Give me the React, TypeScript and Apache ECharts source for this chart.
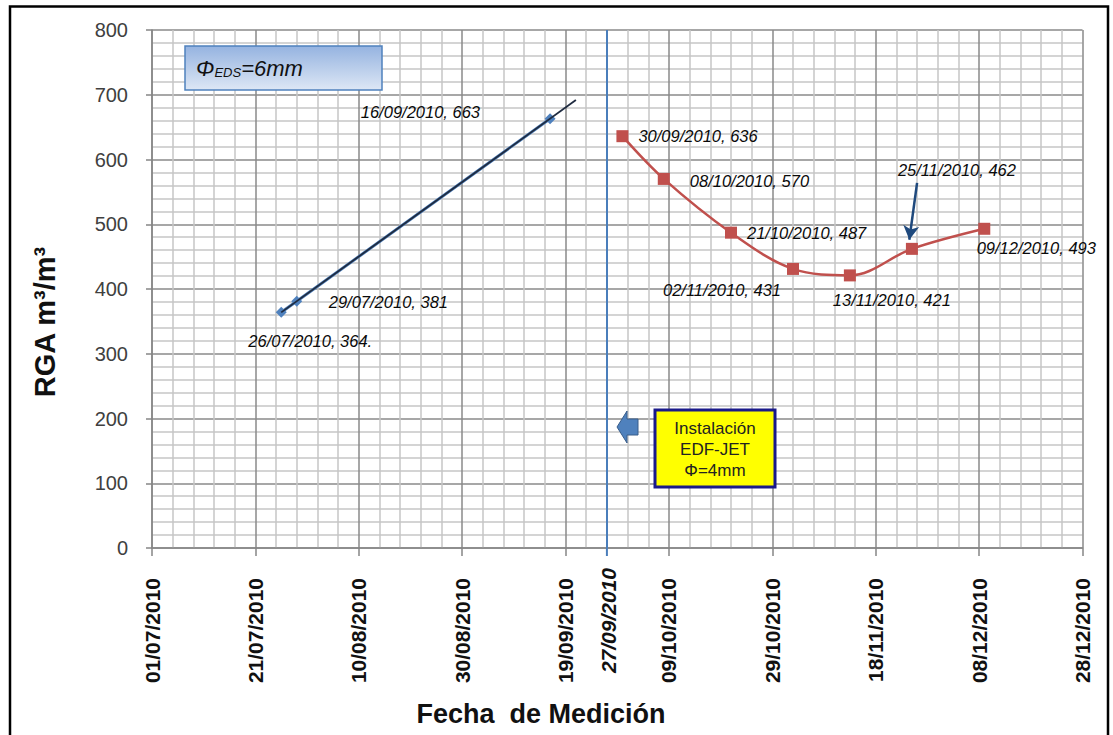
import React, { useEffect, useRef } from "react";
import * as echarts from "echarts";

// ---- axis definitions ----
const xStartDate = "01/07/2010";
const xEndDate = "28/12/2010";
const xTickStepDays = 20;
const yMin = 0;
const yMax = 800;
const yStep = 100;
const xTitle = "Fecha  de Medición";
const yTitle = "RGA m³/m³";

// ---- data: before installation (Φ EDS = 6mm) ----
const beforeDates = ["26/07/2010", "29/07/2010", "16/09/2010"];
const beforeValues = [364, 381, 663];
const beforeLabels = ["26/07/2010, 364.", "29/07/2010, 381", "16/09/2010, 663"];

// ---- data: after installation (EDF-JET Φ = 4mm) ----
const afterDates = ["30/09/2010", "08/10/2010", "21/10/2010", "02/11/2010", "13/11/2010", "25/11/2010", "09/12/2010"];
const afterValues = [636, 570, 487, 431, 421, 462, 493];
const afterLabels = afterDates.map((d, i) => `${d}, ${afterValues[i]}`);

const installDate = "27/09/2010";
const trendForwardDays = 5;
const highlightDate = "25/11/2010";

// ---- label placement (style only) ----
const beforeLabelPlacement: any[] = [
  { align: "center", offset: [29, 29] },
  { align: "left", offset: [32, 1] },
  { align: "right", offset: [-70, -7] },
];
const afterLabelPlacement: any[] = [
  { align: "left", offset: [16, 0] },
  { align: "left", offset: [26, 2] },
  { align: "left", offset: [16, 0] },
  { align: "center", offset: [-71, 21] },
  { align: "center", offset: [42, 25] },
  { align: "center", offset: [45, -79] },
  { align: "center", offset: [52, 19] },
];

const DAY = 86400000;
const parseDate = (s: string) => {
  const [d, m, y] = s.split("/").map(Number);
  return Date.UTC(y, m - 1, d);
};
const origin = parseDate(xStartDate);
const toDay = (s: string) => Math.round((parseDate(s) - origin) / DAY);
const pad = (n: number) => (n < 10 ? "0" + n : "" + n);
const fmtDay = (n: number) => {
  const dt = new Date(origin + Math.round(n) * DAY);
  return `${pad(dt.getUTCDate())}/${pad(dt.getUTCMonth() + 1)}/${dt.getUTCFullYear()}`;
};

// linear trendline (least squares) of the "before" points, as Excel draws it
const bx = beforeDates.map(toDay);
const mx = bx.reduce((a, b) => a + b, 0) / bx.length;
const my = beforeValues.reduce((a, b) => a + b, 0) / beforeValues.length;
let sxy = 0, sxx = 0;
bx.forEach((x, i) => {
  sxy += (x - mx) * (beforeValues[i] - my);
  sxx += (x - mx) * (x - mx);
});
const slope = sxy / sxx;
const icpt = my - slope * mx;
const trendX0 = bx[0];
const trendX1 = bx[bx.length - 1] + trendForwardDays;

const labelFont = {
  fontFamily: "Liberation Sans",
  fontStyle: "italic" as const,
  fontSize: 16.5,
  color: "#0a0a0a",
};

export default function App() {
  const ref = useRef<HTMLDivElement>(null);
  useEffect(() => {
    const chart = echarts.init(ref.current!, null, { renderer: "svg" });
    const hd = toDay(highlightDate);
    const hv = afterValues[afterDates.indexOf(highlightDate)];
    const option: any = {
      animation: false,
      backgroundColor: "#fff",
      grid: { left: 152, top: 30, width: 930.5, height: 518, containLabel: false },
      xAxis: {
        type: "value",
        min: 0,
        max: toDay(xEndDate),
        interval: xTickStepDays,
        axisLine: { show: true, lineStyle: { color: "#868686", width: 1.5 } },
        axisTick: { show: true, length: 8, lineStyle: { color: "#868686", width: 1.5 } },
        minorTick: { show: false, splitNumber: 5 },
        axisLabel: {
          rotate: 90,
          margin: 30,
          formatter: (v: number) => fmtDay(v),
          fontFamily: "Liberation Sans",
          fontWeight: "bold",
          fontSize: 21,
          color: "#111",
        },
        splitLine: { show: true, lineStyle: { color: "#8a8a8a", width: 1.5 } },
        minorSplitLine: { show: true, lineStyle: { color: "#c6c6c6", width: 1.5 } },
      },
      yAxis: {
        type: "value",
        min: yMin,
        max: yMax,
        interval: yStep,
        axisLine: { show: true, lineStyle: { color: "#868686", width: 1.5 } },
        axisTick: { show: true, length: 6, lineStyle: { color: "#868686", width: 1.5 } },
        minorTick: { show: false, splitNumber: 5 },
        axisLabel: { margin: 24, fontFamily: "Liberation Sans", fontSize: 20, color: "#404040" },
        splitLine: { show: true, lineStyle: { color: "#8a8a8a", width: 1.5 } },
        minorSplitLine: { show: true, lineStyle: { color: "#c6c6c6", width: 1.5 } },
      },
      series: [
        {
          name: "antes",
          type: "line",
          data: beforeDates.map((d, i) => ({
            value: [toDay(d), beforeValues[i]],
            label: {
              show: true,
              position: "inside",
              formatter: beforeLabels[i],
              align: beforeLabelPlacement[i].align,
              verticalAlign: "middle",
              offset: beforeLabelPlacement[i].offset,
              ...labelFont,
            },
          })),
          symbol: "diamond",
          symbolSize: 11,
          itemStyle: { color: "#4f81bd" },
          lineStyle: { color: "#4f81bd", width: 3 },
          z: 3,
          markLine: {
            silent: true,
            symbol: ["none", "none"],
            label: { show: false },
            lineStyle: { color: "#4a7ebb", width: 2, type: "solid" },
            data: [{ xAxis: toDay(installDate) }],
          },
        },
        {
          name: "tendencia",
          type: "line",
          data: [
            [trendX0, icpt + slope * trendX0],
            [trendX1, icpt + slope * trendX1],
          ],
          symbol: "none",
          lineStyle: { color: "#1f2b40", width: 1.8 },
          z: 4,
          silent: true,
        },
        {
          name: "despues",
          type: "line",
          smooth: 0.35,
          data: afterDates.map((d, i) => ({
            value: [toDay(d), afterValues[i]],
            label: {
              show: true,
              position: "inside",
              formatter: afterLabels[i],
              align: afterLabelPlacement[i].align,
              verticalAlign: "middle",
              offset: afterLabelPlacement[i].offset,
              ...labelFont,
            },
          })),
          symbol: "rect",
          symbolSize: 12,
          itemStyle: { color: "#c0504d" },
          lineStyle: { color: "#c0504d", width: 2.5 },
          z: 3,
          markLine: {
            silent: true,
            symbol: ["none", "arrow"],
            symbolSize: [12, 14],
            label: { show: false },
            lineStyle: { color: "#1f497d", width: 2.5, type: "solid" },
            data: [[{ coord: [hd + 1, hv + 102] }, { coord: [hd - 0.5, hv + 14] }]],
          },
        },
      ],
    };
    chart.setOption(option);

    const p0 = chart.convertToPixel({ gridIndex: 0 }, [toDay(installDate), yMin]) as number[];

    chart.setOption({
      graphic: [
        {
          type: "rect",
          shape: { x: 10, y: 6.5, width: 1098, height: 760 },
          style: { fill: "none", stroke: "#000", lineWidth: 2.5 },
          silent: true,
          z: 100,
        },
        {
          type: "text",
          x: 541,
          y: 714,
          style: {
            text: xTitle,
            align: "center",
            verticalAlign: "middle",
            fontFamily: "Liberation Sans",
            fontWeight: "bold",
            fontSize: 27,
            fill: "#111",
          },
          z: 100,
        },
        {
          type: "text",
          x: 45,
          y: 322,
          rotation: Math.PI / 2,
          style: {
            text: yTitle,
            align: "center",
            verticalAlign: "middle",
            fontFamily: "Liberation Sans",
            fontWeight: "bold",
            fontSize: 29,
            fill: "#111",
          },
          z: 100,
        },
        {
          type: "line",
          shape: { x1: p0[0], y1: p0[1], x2: p0[0], y2: p0[1] + 8 },
          style: { stroke: "#4a7ebb", lineWidth: 2 },
          z: 100,
        },
        {
          type: "text",
          x: p0[0] + 2,
          y: p0[1] + 20,
          rotation: Math.PI / 2,
          style: {
            text: installDate,
            align: "right",
            verticalAlign: "middle",
            fontFamily: "Liberation Sans",
            fontWeight: "bold",
            fontStyle: "italic",
            fontSize: 21,
            fill: "#111",
          },
          z: 100,
        },
        // Φ EDS = 6mm box
        {
          type: "rect",
          shape: { x: 185, y: 46, width: 197, height: 44 },
          style: {
            fill: new echarts.graphic.LinearGradient(0, 0, 0, 1, [
              { offset: 0, color: "#95b3e0" },
              { offset: 1, color: "#dde7f5" },
            ]),
            stroke: "#4f81bd",
            lineWidth: 1.5,
          },
          z: 100,
        },
        {
          type: "text",
          x: 196,
          y: 68,
          style: {
            text: "{a|Φ}{b|EDS}{a|=6mm}",
            verticalAlign: "middle",
            rich: {
              a: { fontFamily: "Liberation Sans", fontStyle: "italic", fontSize: 22, fill: "#111", verticalAlign: "bottom" },
              b: { fontFamily: "Liberation Sans", fontStyle: "italic", fontSize: 13, fill: "#111", verticalAlign: "bottom" },
            },
          },
          z: 101,
        },
        // left arrow
        {
          type: "polygon",
          shape: {
            points: [
              [617, 427], [627, 411], [627, 419], [638, 419], [638, 435], [627, 435], [627, 443],
            ],
          },
          style: { fill: "#4f81bd", stroke: "#385d8a", lineWidth: 1 },
          z: 100,
        },
        // yellow box
        {
          type: "rect",
          shape: { x: 655, y: 410, width: 120, height: 77 },
          style: { fill: "#ffff00", stroke: "#1a1a8a", lineWidth: 3 },
          z: 100,
        },
        {
          type: "text",
          x: 715,
          y: 449,
          style: {
            text: "Instalación\nEDF-JET\nΦ=4mm",
            align: "center",
            verticalAlign: "middle",
            lineHeight: 21,
            fontFamily: "Liberation Sans",
            fontSize: 17,
            fill: "#222",
          },
          z: 101,
        },
      ],
    });
    return () => chart.dispose();
  }, []);
  return (
    <div
      ref={ref}
      style={{ position: "fixed", left: 0, top: 0, width: 1113, height: 735, background: "#fff" }}
    />
  );
}
